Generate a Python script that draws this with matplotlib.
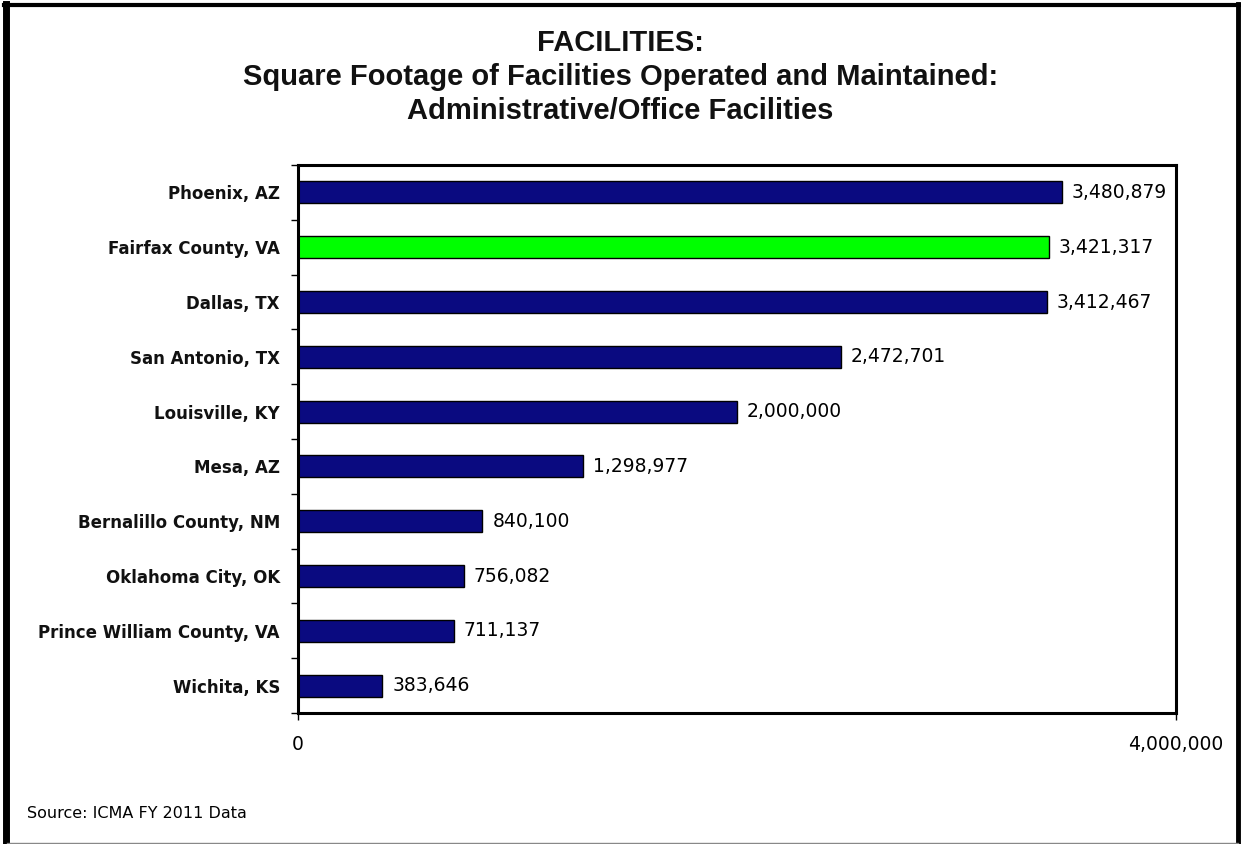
import matplotlib
matplotlib.use("Agg")
import matplotlib.pyplot as plt
from matplotlib.lines import Line2D
from matplotlib.ticker import FixedLocator

# Administrative/office square footage by jurisdiction (top to bottom)
cities = [
    "Phoenix, AZ",
    "Fairfax County, VA",
    "Dallas, TX",
    "San Antonio, TX",
    "Louisville, KY",
    "Mesa, AZ",
    "Bernalillo County, NM",
    "Oklahoma City, OK",
    "Prince William County, VA",
    "Wichita, KS",
]
sq_feet = [3480879, 3421317, 3412467, 2472701, 2000000,
           1298977, 840100, 756082, 711137, 383646]
highlight = "Fairfax County, VA"
x_ticks = [0, 4000000]
x_tick_labels = ["0", "4,000,000"]

NAVY = "#0a0a80"
GREEN = "#00ff00"

fig = plt.figure(figsize=(12.41, 8.44), dpi=100)
fig.patch.set_facecolor("white")

ax = fig.add_axes([298 / 1241, 1 - 713 / 844, (1176 - 298) / 1241, (713 - 165) / 844])

ypos = list(range(len(cities)))
colors = [GREEN if c == highlight else NAVY for c in cities]
ax.barh(ypos, sq_feet, height=0.4, color=colors, edgecolor="black", linewidth=1.0)

ax.set_xlim(x_ticks[0], x_ticks[-1])
ax.set_ylim(len(cities) - 0.5, -0.5)

# value labels at the end of each bar
for y, v in zip(ypos, sq_feet):
    ax.text(v + 45000, y, f"{v:,}", va="center", ha="left",
            fontsize=13.5, family="DejaVu Sans", color="black")

ax.set_yticks(ypos)
ax.set_yticklabels(cities, fontsize=12, family="DejaVu Sans", fontweight="bold",
                   color="#111111")
ax.tick_params(axis="y", which="major", length=0, pad=13)
ax.yaxis.set_minor_locator(FixedLocator([i + 0.5 for i in range(-1, len(cities))]))
ax.tick_params(axis="y", which="minor", length=5, width=1, color="black", direction="out")

ax.set_xticks(x_ticks)
ax.set_xticklabels(x_tick_labels, fontsize=13.5, family="DejaVu Sans")
ax.tick_params(axis="x", length=5, width=1, direction="out", pad=11)

for s in ax.spines.values():
    s.set_linewidth(2.2)
    s.set_color("black")

fig.text(0.5, 1 - 77 / 844,
         "FACILITIES:\nSquare Footage of Facilities Operated and Maintained:\nAdministrative/Office Facilities",
         ha="center", va="center", fontsize=21, linespacing=1.27,
         family="Liberation Sans", fontweight="bold", color="#111111")
fig.text(27 / 1241, 1 - 813 / 844, "Source: ICMA FY 2011 Data",
         ha="left", va="center", fontsize=11.5, family="DejaVu Sans", color="black")

# page frame
W, H = 1241, 844
frame = [
    ((6 / W, 6 / W), (0, 1 - 4 / H), 5.0, "black"),
    ((4 / W, 1 - 2 / W), (1 - 5 / H, 1 - 5 / H), 3.0, "black"),
    ((1 - 3 / W, 1 - 3 / W), (0, 1 - 4 / H), 3.5, "black"),
    ((7 / W, 1 - 3 / W), (1 / H, 1 / H), 1.0, "#888888"),
]
for xs, ys, lw, col in frame:
    fig.add_artist(Line2D(xs, ys, transform=fig.transFigure, lw=lw, color=col))

fig.savefig("out.png", dpi=100)
